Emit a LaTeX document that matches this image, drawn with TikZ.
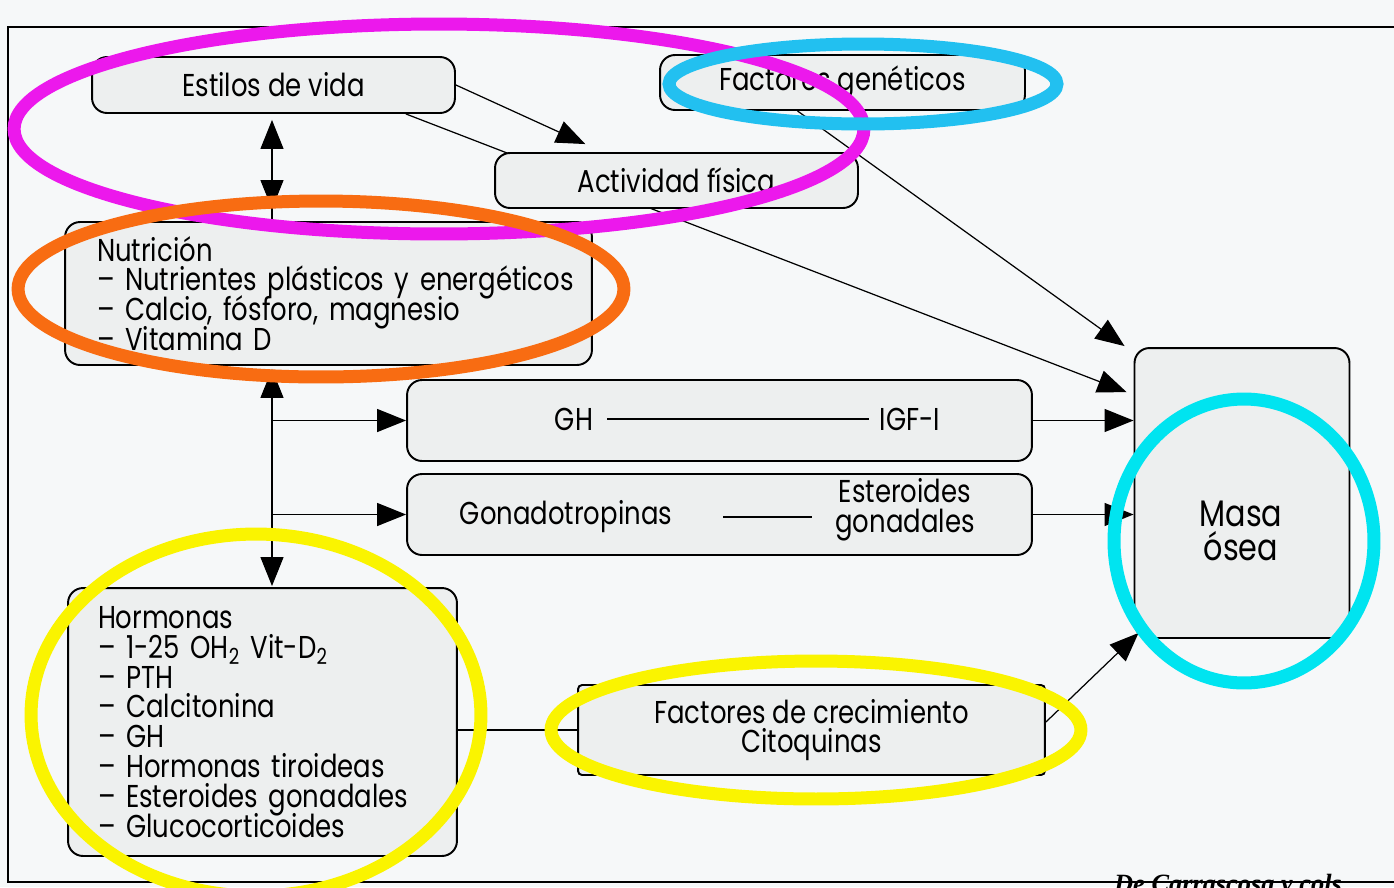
\documentclass[tikz,border=0pt]{standalone}
\usepackage{fontspec}
\setmainfont{Poppins}[FakeStretch=0.82]
\newfontfamily\srcfont{Liberation Serif}
\usetikzlibrary{arrows.meta,calc}

\definecolor{paper}{RGB}{246,248,249}
\definecolor{boxgray}{RGB}{237,239,239}
\definecolor{markmagenta}{RGB}{236,24,236}
\definecolor{markcyan}{RGB}{34,192,240}
\definecolor{markaqua}{RGB}{0,228,240}
\definecolor{markorange}{RGB}{248,108,18}
\definecolor{markyellow}{RGB}{250,244,0}
\newcommand\boxfont{\fontsize{18}{17}\selectfont\lineskiplimit=-20pt\relax}

\begin{document}
\begin{tikzpicture}[x=0.02cm,y=-0.02cm,
  every node/.style={font=\boxfont},
  box/.style={draw,line width=1.1pt,rounded corners=0.3cm,fill=boxgray,inner sep=0pt},
  conn/.style={line width=0.7pt},
  arr/.style={conn,-{Triangle[length=0.58cm,width=0.46cm]}},
  arrboth/.style={conn,{Triangle[length=0.58cm,width=0.46cm]}-{Triangle[length=0.58cm,width=0.46cm]}},
  ring/.style={line width=0.26cm}]

\fill[paper] (0,0) rectangle (1394,887);
\useasboundingbox (0,0) rectangle (1394,887);
\draw[line width=1.2pt] (1394,27) -- (8,27) -- (8,882) -- (1394,882);

% connectors under the boxes
\coordinate (vx) at (272,0);
\node[box,minimum width=7.26cm,minimum height=1.12cm] (estilos) at (273.5,85) {};
\node[box,minimum width=4.3cm,minimum height=5.8cm] (masa) at (1242,493) {};
\draw[arr] ($(estilos.south east)+(-50,0)$) -- ($(masa.north west)+(-7,45)$);

\node[box,minimum width=7.3cm,minimum height=1.1cm] (geneticos) at (842.5,82.5) {Factores genéticos};
\node[box,minimum width=7.26cm,minimum height=1.1cm] (actividad) at (676.5,180.5) {Actividad física};
\node at (estilos) {Estilos de vida};
\node[align=center,font=\fontsize{21}{19}\selectfont] (masatxt) at (1241,531) {Masa\\ósea};

\node[box,minimum width=10.54cm,minimum height=2.86cm,text width=9.26cm,
  align=left,inner xsep=0.64cm] (nutricion) at (328.5,293.5)
  {Nutrición\\\mbox{– Nutrientes plásticos y energéticos}\\– Calcio, fósforo, magnesio\\– Vitamina D};

\node[box,minimum width=12.5cm,minimum height=1.62cm] (ghbox) at (719.5,420.5) {};
\node[anchor=base] (gh) at (574,430) {GH};
\node[anchor=base] (igf) at (910,430) {IGF-I};
\draw[conn,shorten <=0.16cm,shorten >=0.1cm] (gh) -- (igf);

\node[box,minimum width=12.5cm,minimum height=1.62cm] (gonbox) at (719.5,514.5) {};
\node (gonado) at (566,517) {Gonadotropinas};
\node[align=center] (esteroides) at (905,510) {Esteroides\\gonadales};
\draw[conn,shorten <=0.9cm,shorten >=0.34cm] (gonado.east) -- (gonado.east -| esteroides.west);

\node[box,minimum width=7.78cm,minimum height=5.36cm,text width=6.58cm,
  align=left,inner xsep=0.6cm] (hormonas) at (262.5,722)
  {Hormonas\\– 1-25 OH\textsubscript{2} Vit-D\textsubscript{2}\\– PTH\\– Calcitonina\\– GH\\
   – Hormonas tiroideas\\– Esteroides gonadales\\– Glucocorticoides};

\node[box,rounded corners=0.08cm,minimum width=9.34cm,minimum height=1.8cm,
  align=center] (factores) at (811.5,730) {Factores de crecimiento\\Citoquinas};

\draw[arr] (estilos.east) -- ($(actividad.north west)!0.25!(actividad.north east)+(0,-8)$);
\draw[arrboth] ($(estilos.south -| vx)+(0,6)$) -- ($(nutricion.north -| vx)+(0,-12)$);
\draw[conn] ($(nutricion.north -| vx)+(0,-14)$) -- (nutricion.north -| vx);
\draw[arr] ($(geneticos.south)+(-45,0)$) -- ($(masa.north west)+(-9,-1)$);
\draw[arrboth] ($(nutricion.south -| vx)+(0,3)$) -- ($(hormonas.north -| vx)+(0,-1)$);
\draw[arr] (ghbox.west -| vx) -- (ghbox.west);
\draw[arr] (gonbox.west -| vx) -- (gonbox.west);
\draw[arr] (ghbox.east) -- (ghbox.east -| masa.west);
\draw[arr] (gonbox.east) -- (gonbox.east -| masa.west);
\draw[conn] (factores.west -| hormonas.east) -- (factores.west);
\draw[arr] ($(factores.east)+(0,-8)$) -- ($(masa.south west)+(5,-6)$);

\node[anchor=north west,font=\srcfont\fontsize{15}{15}\selectfont\bfseries\itshape] (fuente) at (1108,868) {De Carrascosa y cols.};

% highlight rings
\draw[ring,markmagenta] (439,129) ellipse [x radius=8.5cm,y radius=2.1cm];
\draw[ring,markcyan] (863,84) ellipse [x radius=3.88cm,y radius=0.8cm];
\draw[ring,markorange] (321,289) ellipse [x radius=6.06cm,y radius=1.76cm];
\draw[ring,markyellow] (256,715) ellipse [x radius=4.5cm,y radius=3.62cm];
\draw[ring,markyellow] (816,730) ellipse [x radius=5.3cm,y radius=1.38cm];
\draw[ring,markaqua] (1244,541) ellipse [x radius=2.6cm,y radius=2.84cm];
\end{tikzpicture}
\end{document}
